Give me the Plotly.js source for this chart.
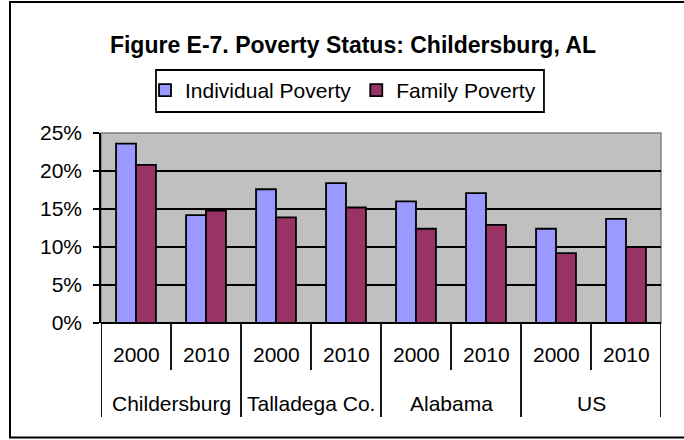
<!DOCTYPE html>
<html>
<head>
<meta charset="utf-8">
<script src="https://cdn.plot.ly/plotly-3.0.1.min.js"></script>
<style>
html,body{margin:0;padding:0;background:#fff;}
#chart{width:684px;height:440px;}
</style>
</head>
<body>
<div id="chart"></div>
<script>
var groups = ["Childersburg", "Talladega Co.", "Alabama", "US"];
var years = ["2000", "2010"];
var individualPoverty = [0.236, 0.142, 0.176, 0.184, 0.160, 0.171, 0.124, 0.137];
var familyPoverty = [0.208, 0.148, 0.139, 0.152, 0.124, 0.129, 0.092, 0.100];
var seriesNames = ["Individual Poverty", "Family Poverty"];
var yTicks = [0, 0.05, 0.10, 0.15, 0.20, 0.25];
var yTickLabels = ["0%", "5%", "10%", "15%", "20%", "25%"];
var titleText = "Figure E-7. Poverty Status: Childersburg, AL";

var xIdx = [];
var yearLabels = [];
groups.forEach(function (g, gi) {
  years.forEach(function (yr, yi) {
    xIdx.push(gi * years.length + yi);
    yearLabels.push(yr);
  });
});

var FONT = "Liberation Sans, Arial, sans-serif";

var traces = [
  {type: "bar", name: seriesNames[0], x: xIdx, y: individualPoverty,
   marker: {color: "#9999FF", line: {color: "#000000", width: 1.8}}},
  {type: "bar", name: seriesNames[1], x: xIdx, y: familyPoverty,
   marker: {color: "#993366", line: {color: "#000000", width: 1.8}}}
];

var annotations = [];
var shapes = [];
var yearY = -0.168, groupY = -0.425;
var yearDivBottom = -0.247, groupDivBottom = -0.495;

xIdx.forEach(function (xi, i) {
  annotations.push({x: xi, y: yearY, xref: "x", yref: "paper", text: yearLabels[i],
    showarrow: false, xanchor: "center", yanchor: "middle",
    font: {family: FONT, size: 21, color: "#000"}});
});
groups.forEach(function (g, gi) {
  var center = gi * years.length + (years.length - 1) / 2;
  annotations.push({x: center, y: groupY, xref: "x", yref: "paper", text: g,
    showarrow: false, xanchor: "center", yanchor: "middle",
    font: {family: FONT, size: 21, color: "#000"}});
});
// category dividers below the axis
for (var b = 0; b <= xIdx.length; b++) {
  var isGroup = (b % years.length === 0);
  shapes.push({type: "line", xref: "x", yref: "paper", x0: b - 0.5, x1: b - 0.5,
    y0: 0, y1: isGroup ? groupDivBottom : yearDivBottom,
    line: {color: "#000", width: 1.8}});
}
// outer chart frame (right edge lies outside the picture)
shapes.push({type: "rect", xref: "paper", yref: "paper",
  x0: -0.1625, x1: 1.12, y0: 1.689, y1: -0.6026,
  line: {color: "#000", width: 2}, fillcolor: "rgba(0,0,0,0)", layer: "below"});
// plot area gray border
shapes.push({type: "rect", xref: "paper", yref: "paper", x0: 0, x1: 1, y0: 0, y1: 1,
  line: {color: "#808080", width: 1.5}, fillcolor: "rgba(0,0,0,0)", layer: "below"});
// legend box
shapes.push({type: "rect", xref: "paper", yref: "paper", x0: 0.0982, x1: 0.791, y0: 1.3316, y1: 1.1105,
  line: {color: "#000", width: 1.8}, fillcolor: "rgba(0,0,0,0)", layer: "above"});

var layout = {
  width: 684, height: 440,
  margin: {l: 101, r: 23, t: 133, b: 117, pad: 0},
  paper_bgcolor: "#ffffff",
  plot_bgcolor: "#C0C0C0",
  barmode: "group",
  bargap: 0.43,
  bargroupgap: 0,
  showlegend: true,
  title: {text: "<b>" + titleText + "</b>", x: 0.516, xref: "container", xanchor: "center",
    y: 0.897, yref: "container", yanchor: "middle",
    font: {family: FONT, size: 23, color: "#000"}},
  legend: {orientation: "h", x: 0.0786, xanchor: "left", y: 1.332, yanchor: "top",
    borderwidth: 0, bgcolor: "rgba(0,0,0,0)",
    font: {family: FONT, size: 21, color: "#000"},
    itemwidth: 30, tracegroupgap: 0, traceorder: "normal"},
  xaxis: {range: [-0.5, xIdx.length - 0.5], showticklabels: false, ticks: "",
    showgrid: false, zeroline: false, showline: false, fixedrange: true},
  yaxis: {range: [0, 0.25], tickvals: yTicks, ticktext: yTickLabels,
    ticks: "outside", ticklen: 6, tickwidth: 1.8, tickcolor: "#000",
    showgrid: true, gridcolor: "#000", gridwidth: 1.8,
    showline: true, linecolor: "#000", linewidth: 1.8,
    zeroline: true, zerolinecolor: "#000", zerolinewidth: 1.8,
    tickfont: {family: FONT, size: 21, color: "#000"}, ticklabelstandoff: 7,
    fixedrange: true},
  annotations: annotations,
  shapes: shapes
};

Plotly.newPlot("chart", traces, layout, {displayModeBar: false, staticPlot: true});
</script>
</body>
</html>
